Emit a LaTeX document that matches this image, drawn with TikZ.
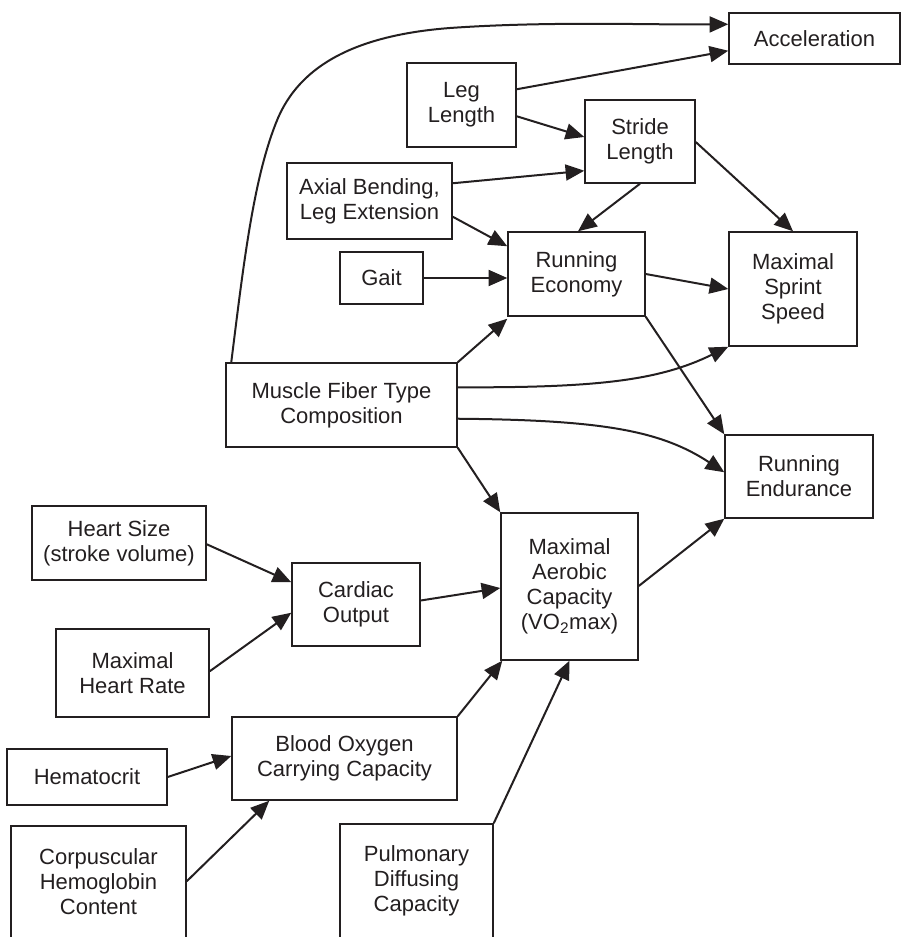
\documentclass[tikz,border=0pt]{standalone}
\usepackage{fontspec}
\setmainfont{Liberation Sans}
\usetikzlibrary{arrows.meta,calc}
\definecolor{ink}{HTML}{231F20}
\tikzset{
  box/.style={draw=ink, line width=1.1pt, inner sep=0pt, align=center, text=ink,
    font=\fontsize{16.5}{18.75}\selectfont},
  arr/.style={draw=ink, line width=1.5pt, -{Triangle[length=14pt,width=12pt]}},
}
\begin{document}
\begin{tikzpicture}[x=0.75pt,y=-0.75pt]
\useasboundingbox (0,0) rectangle (902,937);
\clip (0,0) rectangle (902,937);
% boxes
\node[box, minimum width=171*0.75pt, minimum height=51*0.75pt]  (acc)    at (814.5,38.5) {Acceleration};
\node[box, minimum width=109*0.75pt, minimum height=84*0.75pt]  (leg)    at (461.5,105)  {Leg\\Length};
\node[box, minimum width=110*0.75pt, minimum height=83*0.75pt]  (stride) at (640,141.5)  {Stride\\Length};
\node[box, minimum width=165*0.75pt, minimum height=76*0.75pt]  (axial)  at (369.5,201)  {Axial Bending,\\Leg Extension};
\node[box, minimum width=83*0.75pt,  minimum height=52*0.75pt]  (gait)   at (381.5,278)  {Gait};
\node[box, minimum width=137*0.75pt, minimum height=84*0.75pt]  (re)     at (576.5,274)  {Running\\Economy};
\node[box, minimum width=128*0.75pt, minimum height=114*0.75pt] (mss)    at (793,289)    {Maximal\\Sprint\\Speed};
\node[box, minimum width=231*0.75pt, minimum height=84*0.75pt]  (mf)     at (341.5,405)  {Muscle Fiber Type\\Composition};
\node[box, minimum width=148*0.75pt, minimum height=83*0.75pt]  (runend) at (799,476.5)  {Running\\Endurance};
\node[box, minimum width=174*0.75pt, minimum height=74*0.75pt]  (hs)     at (119,543)    {Heart Size\\(stroke volume)};
\node[box, minimum width=128*0.75pt, minimum height=83*0.75pt]  (co)     at (356,604.5)  {Cardiac\\Output};
\node[box, minimum width=137*0.75pt, minimum height=147*0.75pt] (vo2)    at (569.5,586.5){Maximal\\Aerobic\\Capacity\\(VO\textsubscript{2}max)};
\node[box, minimum width=153*0.75pt, minimum height=88*0.75pt]  (mhr)    at (132.5,673)  {Maximal\\Heart Rate};
\node[box, minimum width=225*0.75pt, minimum height=83*0.75pt]  (blood)  at (344.5,758.5){Blood Oxygen\\Carrying Capacity};
\node[box, minimum width=160*0.75pt, minimum height=56*0.75pt]  (hct)    at (87,777)     {Hematocrit};
\node[box, minimum width=175*0.75pt, minimum height=112*0.75pt] (corp)   at (98.5,882)   {Corpuscular\\Hemoglobin\\Content};
\node[box, minimum width=153*0.75pt, minimum height=114*0.75pt] (pulm)   at (416.5,881)  {Pulmonary\\Diffusing\\Capacity};
% connectors
\draw[arr] ($(mf.north west)+(6,0)$) .. controls (244,260) and (254,175) .. (278,118)
           .. controls (298,72) and (345,36) .. (450,28)
           .. controls (550,21) and (650,25) .. ($(acc.north west)+(0,12)$);
\draw[arr] ($(leg.north east)+(0,27)$) -- ($(acc.south west)+(0,-14)$);
\draw[arr] ($(leg.north east)+(0,54)$) -- ($(stride.west)+(0,-4.5)$);
\draw[arr] ($(axial.north east)+(0,21)$) -- ($(stride.south west)+(0,-13)$);
\draw[arr] (stride.south) -- ($(re.north)+(1.5,0)$);
\draw[arr] ($(stride.east)+(0,0.5)$) -- (mss.north);
\draw[arr] ($(axial.south east)+(0,-23)$) -- ($(re.north west)+(0,15)$);
\draw[arr] (gait.east) -- (gait.east -| re.west);
\draw[arr] (re.east) -- (mss.west);
\draw[arr] (mf.north east) -- ($(re.south west)+(0,2)$);
\draw[arr] ($(mf.north east)+(0,25)$) .. controls (600,388) and (660,380) .. (mss.south west);
\draw[arr] (re.south east) -- (runend.north west);
\draw[arr] ($(mf.south east)+(0,-29)$) .. controls (600,420) and (660,430) .. ($(runend.north west)+(0,38)$);
\draw[arr] (mf.south east) -- (vo2.north west);
\draw[arr] ($(vo2.east)+(0,-0.5)$) -- (runend.south west);
\draw[arr] ($(hs.north east)+(0,39)$) -- ($(co.north west)+(0,20)$);
\draw[arr] ($(mhr.north east)+(0,43)$) -- ($(co.south west)+(0,-34)$);
\draw[arr] ($(co.east)+(0,-4)$) -- ($(vo2.west)+(0,1.5)$);
\draw[arr] (blood.north east) -- ($(vo2.south west)+(2,0)$);
\draw[arr] (hct.east) -- ($(blood.west)+(0,-2.5)$);
\draw[arr] ($(corp.north east)+(0,56)$) -- ($(blood.south west)+(38,0)$);
\draw[arr] (pulm.north east) -- (vo2.south);
\end{tikzpicture}
\end{document}
